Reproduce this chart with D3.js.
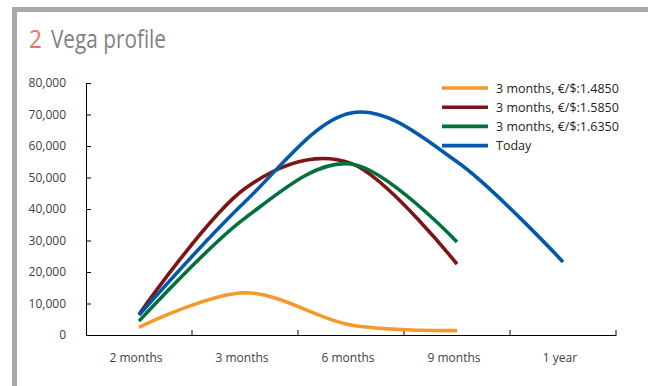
<!DOCTYPE html>
<html><head><meta charset="utf-8">
<script src="https://cdn.jsdelivr.net/npm/d3@7"></script>
<style>body{margin:0;background:#fff}svg{display:block}text{font-family:"Open Sans",sans-serif}</style>
</head><body><svg id="c" width="648" height="386"></svg>
<script>
const categories = ["2 months","3 months","6 months","9 months","1 year"];
const yTicks = [0,10000,20000,30000,40000,50000,60000,70000,80000];
const seriesNames = ["3 months, €/$:1.4850","3 months, €/$:1.5850","3 months, €/$:1.6350","Today"];
const seriesColors = ["#F7982A","#7B1518","#00703C","#0059A9"];
const orangeVals = [2450,13400,3150,1400];
const redVals = [6500,46500,54500,22500];
const greenVals = [4400,37100,54300,29500];
const blueVals = [6300,42300,70500,55000,23200];
const allVals = [orangeVals,redVals,greenVals,blueVals];

const svg = d3.select("#c");
// frame
svg.append("rect").attr("x",12).attr("y",7).attr("width",636).attr("height",5).attr("fill","#A7A9AC");
svg.append("rect").attr("x",12).attr("y",7).attr("width",5).attr("height",379).attr("fill","#A7A9AC");
// title
svg.append("text").attr("x",29).attr("y",48).attr("font-size",25).attr("fill","#E8765B")
  .attr("textLength",13).attr("lengthAdjust","spacingAndGlyphs").text("2");
svg.append("text").attr("x",51).attr("y",48).attr("font-size",25).attr("fill","#808285")
  .attr("textLength",115).attr("lengthAdjust","spacingAndGlyphs").text("Vega profile");

const x = d3.scaleBand().domain(categories).range([86,616]).padding(0);
const y = d3.scaleLinear().domain([0,80000]).range([335,83]);

// y axis
const ya = svg.append("g").attr("transform","translate(86,0)")
  .call(d3.axisLeft(y).tickValues(yTicks).tickFormat(d3.format(",")).tickSizeInner(-5).tickSizeOuter(0).tickPadding(20));
ya.selectAll("text").attr("font-size",12).attr("fill","#414042").style("font-family","'Open Sans',sans-serif");
ya.select(".domain").attr("stroke","#000");
ya.selectAll(".tick line").attr("stroke","#000");

// x axis
const xa = svg.append("g").attr("transform","translate(0,335)")
  .call(d3.axisBottom(x).tickSize(0).tickPadding(18).tickSizeOuter(0));
xa.selectAll("text").attr("font-size",12).attr("fill","#414042").attr("dx",-3).style("font-family","'Open Sans',sans-serif");
xa.select(".domain").attr("stroke","#000");
xa.selectAll(".bnd").data(categories).enter().append("line")
  .attr("x1",d=>x(d)+x.bandwidth()).attr("x2",d=>x(d)+x.bandwidth())
  .attr("y1",0).attr("y2",-5).attr("stroke","#000");

// lines
const line = d3.line().x((d,i)=>x(categories[i])+x.bandwidth()/2).y(d=>y(d)).curve(d3.curveCardinal.tension(0));
allVals.forEach((vals,k)=>{
  svg.append("path").attr("d",line(vals)).attr("fill","none")
    .attr("stroke",seriesColors[k]).attr("stroke-width",3.6);
});

// legend
const lg = svg.append("g");
seriesNames.forEach((n,k)=>{
  const yy = 88 + k*19.2;
  lg.append("line").attr("x1",442).attr("x2",488).attr("y1",yy).attr("y2",yy)
    .attr("stroke",seriesColors[k]).attr("stroke-width",3.6);
  lg.append("text").attr("x",496).attr("y",yy+4.5).attr("font-size",12.5).attr("fill","#231F20").text(n);
});
</script></body></html>
